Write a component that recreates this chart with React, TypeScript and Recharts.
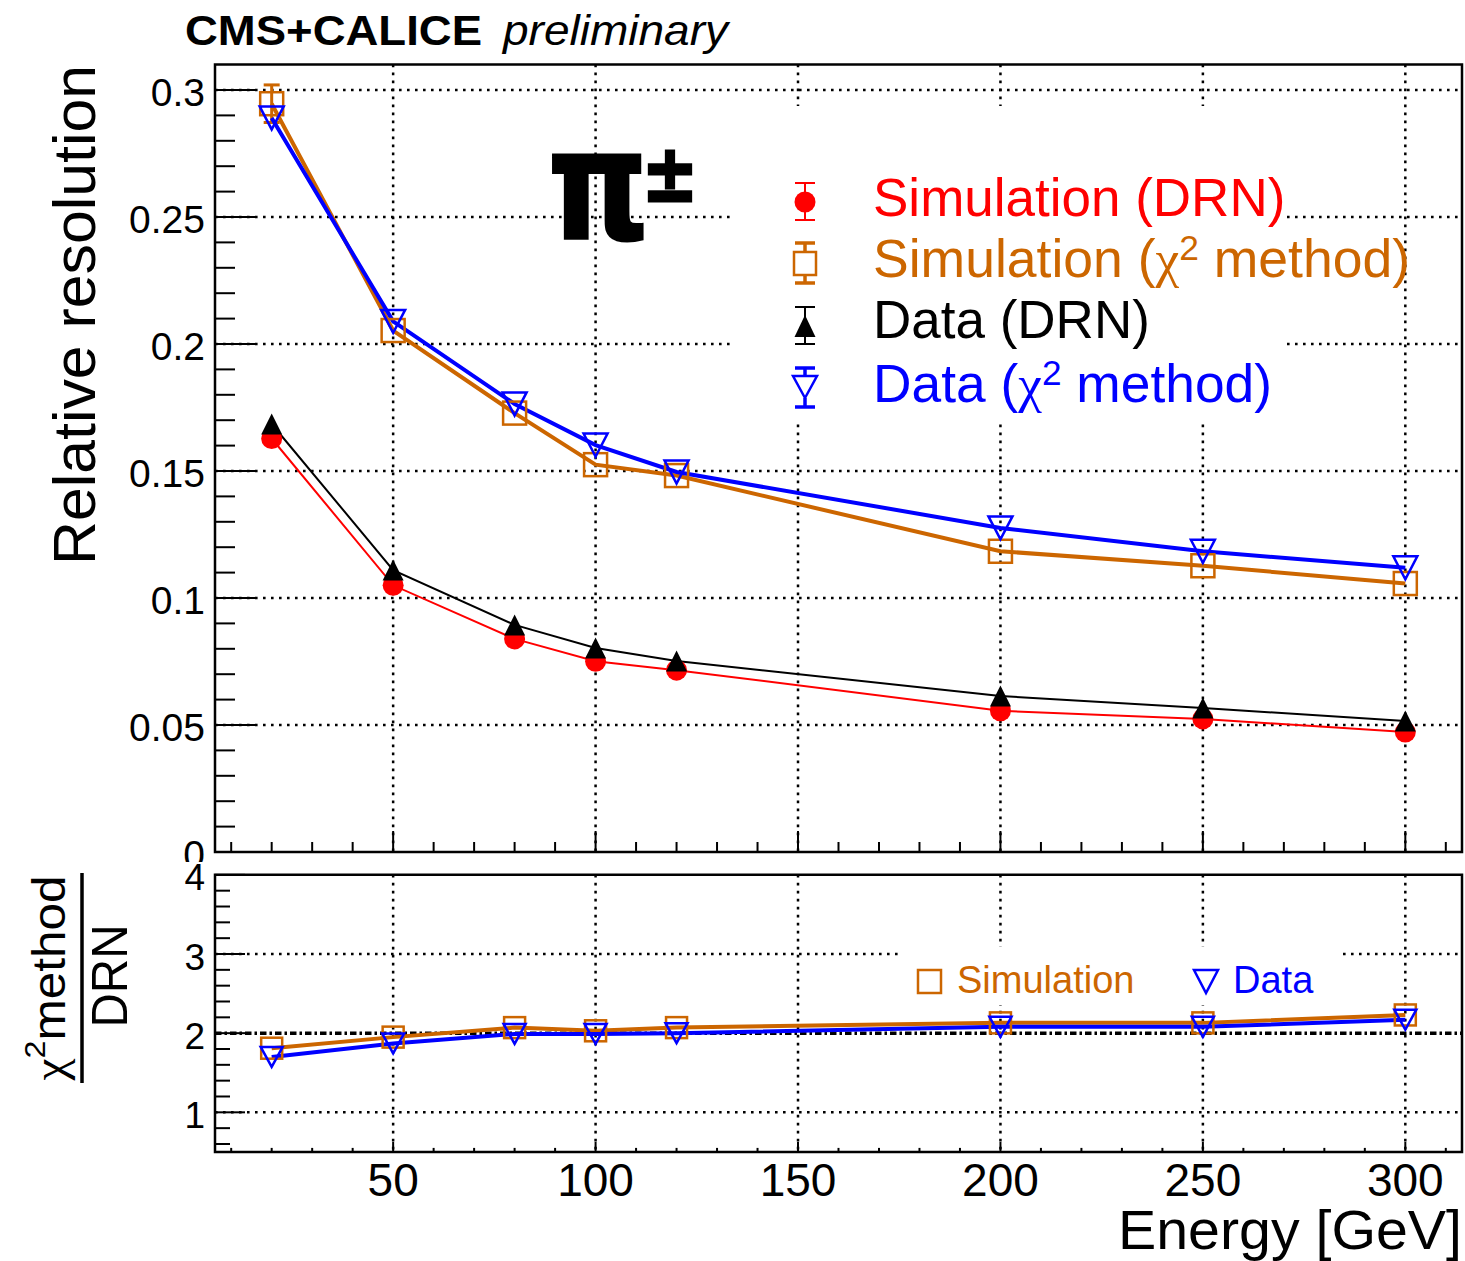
import React from "react";
import {
  LineChart,
  Line,
  XAxis,
  YAxis,
  CartesianGrid,
  ReferenceLine,
  ReferenceArea,
  ErrorBar,
} from "recharts";

// beam energies [GeV]
const energy = [20, 50, 80, 100, 120, 200, 250, 300];

// relative resolution
const simDrn = [0.1628, 0.105, 0.0839, 0.0751, 0.0716, 0.0556, 0.0524, 0.0472];
const simChi2 = [0.2946, 0.2053, 0.1728, 0.1525, 0.1482, 0.1184, 0.1127, 0.1057];
// only the first error bar sticks out of its marker
const simChi2Err = [0.0074, null, null, null, null, null, null, null];
const dataDrn = [0.1685, 0.111, 0.0894, 0.0803, 0.0752, 0.0614, 0.0567, 0.0516];
const dataChi2 = [0.289, 0.2089, 0.1764, 0.1602, 0.1496, 0.1276, 0.1184, 0.1119];

// ratio chi2 method / DRN
const ratioSim = [1.81, 1.95, 2.07, 2.03, 2.07, 2.13, 2.13, 2.23];
const ratioData = [1.7, 1.87, 1.99, 1.99, 2.0, 2.08, 2.08, 2.17];

const xMajor = [50, 100, 150, 200, 250, 300];
const topYMajor = [0, 0.05, 0.1, 0.15, 0.2, 0.25, 0.3];
const bottomYMajor = [1, 2, 3, 4];

const xTicks = Array.from({ length: 31 }, (_, i) => (i + 1) * 10);
const topYTicks = Array.from({ length: 31 }, (_, i) => i / 100);
const bottomYTicks = Array.from({ length: 18 }, (_, i) => Math.round((0.6 + i * 0.2) * 10) / 10);

const topRows = energy.map((e, i) => ({
  e,
  simDrn: simDrn[i],
  simChi2: simChi2[i],
  simChi2Err: simChi2Err[i],
  dataDrn: dataDrn[i],
  dataChi2: dataChi2[i],
}));

const bottomRows = energy.map((e, i) => ({
  e,
  ratioSim: ratioSim[i],
  ratioData: ratioData[i],
}));

const RED = "#ff0000";
const ORANGE = "#cc6600";
const BLUE = "#0000ff";
const BLACK = "#000000";
const FONT = "'Liberation Sans', Arial, Helvetica, sans-serif";
const GRID_DASH = "2.6 5.4";

const isIn = (arr: number[], v: number) => arr.some((m) => Math.abs(m - v) < 1e-9);

function makeYTick(major: number[], majLen: number, minLen: number, fontSize: number) {
  return (p: any) => {
    const v = p.payload.value;
    const maj = isIn(major, v);
    return (
      <g key={`y-${v}`}>
        <line x1={p.x} x2={p.x + (maj ? majLen : minLen)} y1={p.y} y2={p.y} stroke="#000" strokeWidth={2} />
        {maj && (
          <text x={p.x - 10} y={p.y} dy="0.42em" textAnchor="end" fontSize={fontSize} fill="#000">
            {String(v)}
          </text>
        )}
      </g>
    );
  };
}

function makeXTick(majLen: number, minLen: number, labels: boolean) {
  return (p: any) => {
    const v = p.payload.value;
    const maj = isIn(xMajor, v);
    return (
      <g key={`x-${v}`}>
        <line x1={p.x} x2={p.x} y1={p.y} y2={p.y - (maj ? majLen : minLen)} stroke="#000" strokeWidth={2} />
        {labels && maj && (
          <text x={p.x} y={p.y + 44} textAnchor="middle" fontSize={46} fill="#000">
            {String(v)}
          </text>
        )}
      </g>
    );
  };
}

const circleDot = (color: string, r: number) => (p: any) =>
  p.cx == null ? <g key={p.index} /> : <circle key={p.index} cx={p.cx} cy={p.cy} r={r} fill={color} />;

const squareDot = (color: string, s: number) => (p: any) =>
  p.cx == null ? (
    <g key={p.index} />
  ) : (
    <rect key={p.index} x={p.cx - s / 2} y={p.cy - s / 2} width={s} height={s} fill="none" stroke={color} strokeWidth={2.5} />
  );

const triUpDot = (color: string, w: number, h: number) => (p: any) =>
  p.cx == null ? (
    <g key={p.index} />
  ) : (
    <polygon
      key={p.index}
      points={`${p.cx},${p.cy - h / 2} ${p.cx - w / 2},${p.cy + h / 2} ${p.cx + w / 2},${p.cy + h / 2}`}
      fill={color}
    />
  );

const triDownDot = (color: string, w: number, h: number) => (p: any) =>
  p.cx == null ? (
    <g key={p.index} />
  ) : (
    <polygon
      key={p.index}
      points={`${p.cx - w / 2},${p.cy - h / 2} ${p.cx + w / 2},${p.cy - h / 2} ${p.cx},${p.cy + h / 2}`}
      fill="none"
      stroke={color}
      strokeWidth={2.5}
    />
  );

function Bar({ x, y1, y2, color, w }: { x: number; y1: number; y2: number; color: string; w: number }) {
  return <line x1={x} x2={x} y1={y1} y2={y2} stroke={color} strokeWidth={w} />;
}

function Cap({ x, y, color, w }: { x: number; y: number; color: string; w: number }) {
  return <line x1={x - 10} x2={x + 10} y1={y} y2={y} stroke={color} strokeWidth={w} />;
}

function Overlay() {
  const mx = 805;
  return (
    <svg
      width={1465}
      height={1261}
      style={{ position: "absolute", left: 0, top: 0, pointerEvents: "none", fontFamily: FONT }}
    >
      {/* header */}
      <text x={185} y={45} fontSize={42} fontWeight="bold" textLength={297} lengthAdjust="spacingAndGlyphs">
        CMS+CALICE
      </text>
      <text x={503} y={45} fontSize={42} fontStyle="italic" textLength={225} lengthAdjust="spacingAndGlyphs">
        preliminary
      </text>

      {/* axis titles */}
      <text
        transform="translate(95,65) rotate(-90)"
        textAnchor="end"
        fontSize={60}
        textLength={500}
        lengthAdjust="spacingAndGlyphs"
      >
        Relative resolution
      </text>
      <text x={1462} y={1249} textAnchor="end" fontSize={56} textLength={344} lengthAdjust="spacingAndGlyphs">
        Energy [GeV]
      </text>
      <text
        transform="translate(65,978) rotate(-90)"
        textAnchor="middle"
        fontSize={46}
        textLength={205}
        lengthAdjust="spacingAndGlyphs"
      >
        <tspan fontFamily="'Liberation Serif', serif">χ</tspan>
        <tspan fontSize={30} dy={-20}>2</tspan>
        <tspan dy={20}>method</tspan>
      </text>
      <line x1={82} x2={82} y1={873} y2={1083} stroke="#000" strokeWidth={3.5} />
      <text
        transform="translate(127,976) rotate(-90)"
        textAnchor="middle"
        fontSize={50}
        textLength={103}
        lengthAdjust="spacingAndGlyphs"
      >
        DRN
      </text>

      {/* particle label */}
      <text
        x={553}
        y={238}
        fontFamily="'DejaVu Sans Mono', monospace"
        fontWeight="bold"
        fontSize={150}
        stroke="#000"
        strokeWidth={4}
        textLength={90}
        lengthAdjust="spacingAndGlyphs"
      >
        π
      </text>
      <text
        x={642}
        y={201}
        fontFamily="'DejaVu Sans', sans-serif"
        fontWeight="bold"
        fontSize={80}
        stroke="#000"
        strokeWidth={3}
        textLength={56}
        lengthAdjust="spacingAndGlyphs"
      >
        ±
      </text>

      {/* main legend */}
      <rect x={735} y={106} width={550} height={315} fill="#fff" />
      <Bar x={mx} y1={183} y2={220} color={RED} w={2} />
      <Cap x={mx} y={183} color={RED} w={2} />
      <Cap x={mx} y={220} color={RED} w={2} />
      <circle cx={mx} cy={202} r={10.5} fill={RED} />

      <Bar x={mx} y1={243} y2={252} color={ORANGE} w={3.5} />
      <Bar x={mx} y1={275} y2={283} color={ORANGE} w={3.5} />
      <Cap x={mx} y={243} color={ORANGE} w={3.5} />
      <Cap x={mx} y={283} color={ORANGE} w={3.5} />
      <rect x={mx - 11} y={252} width={22} height={23} fill="none" stroke={ORANGE} strokeWidth={2.5} />

      <Bar x={mx} y1={307} y2={344} color={BLACK} w={2} />
      <Cap x={mx} y={307} color={BLACK} w={2} />
      <Cap x={mx} y={344} color={BLACK} w={2} />
      <polygon points={`${mx},${315} ${mx - 10.5},${337} ${mx + 10.5},${337}`} fill={BLACK} />

      <Bar x={mx} y1={368} y2={376} color={BLUE} w={3.5} />
      <Bar x={mx} y1={398} y2={407} color={BLUE} w={3.5} />
      <Cap x={mx} y={368} color={BLUE} w={3.5} />
      <Cap x={mx} y={407} color={BLUE} w={3.5} />
      <polygon points={`${mx - 12},${376} ${mx + 12},${376} ${mx},${398}`} fill="none" stroke={BLUE} strokeWidth={2.5} />

      <text x={873} y={216} fontSize={53} fill={RED}>
        Simulation (DRN)
      </text>
      <text x={873} y={277} fontSize={53} fill={ORANGE} textLength={537} lengthAdjust="spacingAndGlyphs">
        Simulation (<tspan fontFamily="'Liberation Serif', serif">χ</tspan>
        <tspan fontSize={35} dy={-17}>2</tspan>
        <tspan dy={17}> method)</tspan>
      </text>
      <text x={873} y={338} fontSize={53} fill={BLACK}>
        Data (DRN)
      </text>
      <text x={873} y={402} fontSize={53} fill={BLUE} textLength={399} lengthAdjust="spacingAndGlyphs">
        Data (<tspan fontFamily="'Liberation Serif', serif">χ</tspan>
        <tspan fontSize={35} dy={-17}>2</tspan>
        <tspan dy={17}> method)</tspan>
      </text>

      {/* ratio legend */}
      <rect x={902} y={947} width={438} height={58} fill="#fff" />
      <rect x={918} y={970} width={23} height={23} fill="none" stroke={ORANGE} strokeWidth={2.5} />
      <text x={957} y={993} fontSize={38} fill={ORANGE}>
        Simulation
      </text>
      <polygon points="1194,970 1218,970 1206,993" fill="none" stroke={BLUE} strokeWidth={2.5} />
      <text x={1233} y={993} fontSize={38} fill={BLUE}>
        Data
      </text>
    </svg>
  );
}

export default function App() {
  return (
    <div
      style={{
        position: "absolute",
        left: 0,
        top: 0,
        width: 1465,
        height: 1261,
        background: "#fff",
        fontFamily: FONT,
      }}
    >
      {/* upper pad */}
      <div style={{ position: "absolute", left: 0, top: 0 }}>
        <LineChart width={1465} height={870} data={topRows} margin={{ top: 64.6, right: 3, bottom: 0, left: 0 }}>
          <CartesianGrid
            stroke="#000"
            strokeWidth={2.5}
            strokeDasharray={GRID_DASH}
            horizontalValues={topYMajor.slice(1)}
            verticalValues={xMajor}
          />
          <XAxis
            dataKey="e"
            type="number"
            domain={[6, 314]}
            allowDataOverflow
            ticks={xTicks}
            interval={0}
            height={18}
            tickSize={0}
            tickMargin={0}
            axisLine={false}
            tickLine={false}
            tick={makeXTick(21, 10, false)}
          />
          <YAxis
            type="number"
            domain={[0, 0.31]}
            allowDataOverflow
            ticks={topYTicks}
            interval={0}
            width={215}
            tickSize={0}
            tickMargin={0}
            axisLine={false}
            tickLine={false}
            tick={makeYTick(topYMajor, 40, 20, 39)}
          />
          <Line
            dataKey="simDrn"
            type="linear"
            stroke={RED}
            strokeWidth={2}
            dot={circleDot(RED, 10.5)}
            activeDot={false}
            isAnimationActive={false}
          />
          <Line
            dataKey="simChi2"
            type="linear"
            stroke={ORANGE}
            strokeWidth={4}
            dot={squareDot(ORANGE, 23)}
            activeDot={false}
            isAnimationActive={false}
          >
            <ErrorBar dataKey="simChi2Err" direction="y" width={8} stroke={ORANGE} strokeWidth={3} isAnimationActive={false} />
          </Line>
          <Line
            dataKey="dataDrn"
            type="linear"
            stroke={BLACK}
            strokeWidth={2}
            dot={triUpDot(BLACK, 21, 21)}
            activeDot={false}
            isAnimationActive={false}
          />
          <Line
            dataKey="dataChi2"
            type="linear"
            stroke={BLUE}
            strokeWidth={4}
            dot={triDownDot(BLUE, 24, 23)}
            activeDot={false}
            isAnimationActive={false}
          />
          <ReferenceArea
            x1={6}
            x2={314}
            y1={0}
            y2={0.31}
            fill="none"
            stroke="#000"
            strokeWidth={2.5}
            ifOverflow="visible"
          />
        </LineChart>
      </div>

      {/* lower (ratio) pad */}
      <div style={{ position: "absolute", left: 0, top: 862, background: "#fff" }}>
        <LineChart width={1465} height={399} data={bottomRows} margin={{ top: 12.85, right: 3, bottom: 0, left: 0 }}>
          <CartesianGrid
            stroke="#000"
            strokeWidth={2.5}
            strokeDasharray={GRID_DASH}
            horizontalValues={[1, 3]}
            verticalValues={xMajor}
          />
          <XAxis
            dataKey="e"
            type="number"
            domain={[6, 314]}
            allowDataOverflow
            ticks={xTicks}
            interval={0}
            height={109.1}
            tickSize={0}
            tickMargin={0}
            axisLine={false}
            tickLine={false}
            tick={makeXTick(10, 4, true)}
          />
          <YAxis
            type="number"
            domain={[0.5, 4]}
            allowDataOverflow
            ticks={bottomYTicks}
            interval={0}
            width={215}
            tickSize={0}
            tickMargin={0}
            axisLine={false}
            tickLine={false}
            tick={makeYTick(bottomYMajor, 30, 15, 37)}
          />
          <ReferenceLine y={2} stroke="#000" strokeWidth={3.5} strokeDasharray="6.5 3 2.5 3" />
          <Line
            dataKey="ratioSim"
            type="linear"
            stroke={ORANGE}
            strokeWidth={4}
            dot={squareDot(ORANGE, 21)}
            activeDot={false}
            isAnimationActive={false}
          />
          <Line
            dataKey="ratioData"
            type="linear"
            stroke={BLUE}
            strokeWidth={4}
            dot={triDownDot(BLUE, 22, 20)}
            activeDot={false}
            isAnimationActive={false}
          />
          <ReferenceArea
            x1={6}
            x2={314}
            y1={0.5}
            y2={4}
            fill="none"
            stroke="#000"
            strokeWidth={2.5}
            ifOverflow="visible"
          />
        </LineChart>
      </div>

      <Overlay />
    </div>
  );
}
